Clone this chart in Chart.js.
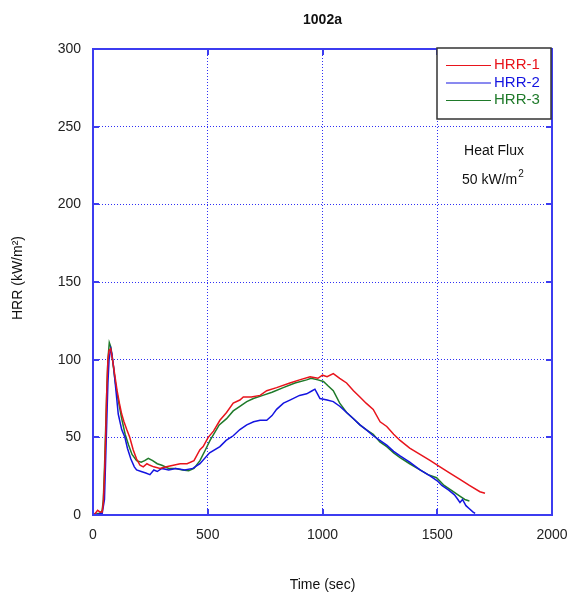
<!DOCTYPE html>
<html>
<head>
<meta charset="utf-8">
<script src="https://cdn.jsdelivr.net/npm/chart.js@4/dist/chart.umd.min.js"></script>
<style>
  html, body { margin: 0; padding: 0; background: #fff; }
  #wrap { width: 569px; height: 594px; }
</style>
</head>
<body>
<div id="wrap"><canvas id="hrr-chart" width="569" height="594"></canvas></div>
<script>
// Data
const title = '1002a';
const seriesNames = ['HRR-1', 'HRR-2', 'HRR-3'];
const seriesColors = ['#e8141c', '#1414e0', '#1f7a2a'];

const xTicks = [0, 500, 1000, 1500, 2000];
const yTicks = [0, 50, 100, 150, 200, 250, 300];

const t1 = [0, 10, 20, 30, 40, 45, 50, 55, 60, 65, 70, 77, 85, 95, 105, 115, 125, 135, 147, 160, 175, 190, 205, 219, 235, 248, 265, 292, 320, 350, 380, 410, 440, 466, 480, 502, 525, 553, 582, 611, 640, 655, 690, 728, 757, 800, 858, 900, 946, 980, 1000, 1020, 1047, 1075, 1105, 1135, 1163, 1190, 1221, 1251, 1280, 1310, 1338, 1380, 1425, 1470, 1512, 1555, 1599, 1640, 1686, 1708];
const hrr1 = [0, 1, 3, 2, 2, 8, 25, 50, 80, 100, 106, 107, 100, 90, 80, 72, 65, 60, 55, 50, 42, 36, 32, 31, 33, 32, 31, 30, 31, 32, 33, 33, 35, 42, 44, 50, 54, 61, 66, 72, 74, 76, 76, 77, 80, 82, 85, 87, 89, 88, 90, 89, 91, 88, 85, 80, 76, 72, 68, 60, 57, 52, 48, 43, 39, 35, 31, 27, 23, 19, 15, 14];

const t2 = [0, 10, 20, 30, 40, 50, 55, 60, 65, 70, 77, 82, 90, 100, 110, 125, 139, 150, 165, 180, 190, 210, 230, 248, 265, 280, 300, 330, 360, 400, 435, 466, 508, 553, 580, 611, 640, 670, 700, 728, 757, 780, 800, 830, 858, 900, 931, 955, 967, 978, 989, 1020, 1047, 1075, 1105, 1135, 1163, 1190, 1221, 1250, 1280, 1310, 1338, 1380, 1425, 1470, 1500, 1520, 1550, 1575, 1590, 1599, 1610, 1625, 1640, 1655, 1665];
const hrr2 = [0, 1, 0, 1, 1, 10, 35, 60, 85, 100, 107, 104, 95, 80, 65, 55, 50, 43, 36, 31, 29, 28, 27, 26, 29, 28, 30, 29, 30, 29, 30, 33, 40, 44, 48, 51, 55, 58, 60, 61, 61, 64, 68, 72, 74, 77, 78, 80, 81, 78, 75, 74, 73, 70, 66, 62, 58, 55, 51, 48, 45, 41, 38, 34, 29, 25, 22, 19, 16, 13, 10, 8, 10, 6, 4, 2, 1];

const t3 = [0, 10, 20, 30, 40, 45, 50, 55, 60, 65, 71, 78, 85, 95, 105, 115, 125, 140, 155, 170, 190, 210, 225, 241, 260, 280, 300, 330, 360, 390, 417, 440, 466, 490, 510, 550, 582, 611, 640, 670, 699, 740, 780, 829, 880, 931, 950, 980, 1004, 1025, 1047, 1075, 1105, 1135, 1163, 1190, 1221, 1250, 1280, 1310, 1338, 1380, 1425, 1460, 1497, 1530, 1570, 1600, 1620, 1640];
const hrr3 = [0, 0, 1, 1, 3, 10, 30, 55, 80, 100, 111, 108, 100, 88, 78, 70, 62, 52, 45, 39, 35, 34, 35, 36.5, 35, 33, 32, 30, 30, 29, 28.5, 30, 35, 42, 48, 58, 62, 67, 70, 73, 75, 77, 79, 82, 85, 87, 88, 87, 86, 83, 80, 72, 66, 62, 58, 55, 52, 47, 44, 40, 37, 33, 29, 26, 24, 19, 15, 12, 10, 9];

const FONT = '"Liberation Sans", Arial, sans-serif';
const FRAME = '#3c3cf0';
const GRID = '#2f2ff5';

function toPoints(xs, ys) {
  return xs.map((x, i) => ({ x: x, y: ys[i] }));
}

// Frame, inward ticks, legend and labels
const decorations = {
  id: 'decorations',
  afterDraw(chart) {
    const c = chart.ctx;
    const a = chart.chartArea;
    const xs = chart.scales.x, ys = chart.scales.y;
    c.save();

    // frame
    c.strokeStyle = FRAME;
    c.lineWidth = 2;
    c.strokeRect(a.left, a.top, a.right - a.left, a.bottom - a.top);

    // inward ticks
    c.lineWidth = 2;
    c.beginPath();
    xTicks.forEach(v => {
      const px = Math.round(xs.getPixelForValue(v));
      c.moveTo(px, a.bottom); c.lineTo(px, a.bottom - 6);
      c.moveTo(px, a.top); c.lineTo(px, a.top + 6);
    });
    yTicks.forEach(v => {
      const py = Math.round(ys.getPixelForValue(v));
      c.moveTo(a.left, py); c.lineTo(a.left + 6, py);
      c.moveTo(a.right, py); c.lineTo(a.right - 6, py);
    });
    c.stroke();

    // title
    c.fillStyle = '#111';
    c.textAlign = 'center';
    c.textBaseline = 'middle';
    c.font = 'bold 14px ' + FONT;
    c.fillText(title, (a.left + a.right) / 2, 20);

    // axis titles
    c.font = '14px ' + FONT;
    c.fillText('Time (sec)', (a.left + a.right) / 2, 585);
    c.save();
    c.translate(18, 278);
    c.rotate(-Math.PI / 2);
    c.fillText('HRR (kW/m\u00B2)', 0, 0);
    c.restore();

    // legend box
    const lx = 437, ly = 48, lw = 114, lh = 71;
    c.fillStyle = '#fff';
    c.fillRect(lx, ly, lw, lh);
    c.strokeStyle = '#333';
    c.lineWidth = 1.5;
    c.strokeRect(lx, ly, lw, lh);
    c.textAlign = 'left';
    c.font = '15px ' + FONT;
    seriesNames.forEach((name, i) => {
      const yy = 65 + i * 17.5;
      c.strokeStyle = seriesColors[i];
      c.lineWidth = 1;
      c.beginPath();
      c.moveTo(446, yy + 0.5); c.lineTo(491, yy + 0.5);
      c.stroke();
      c.fillStyle = seriesColors[i];
      c.fillText(name, 494, yy);
    });

    // heat flux note
    c.fillStyle = '#111';
    c.textAlign = 'center';
    c.font = '14px ' + FONT;
    c.fillText('Heat Flux', 494, 151);
    c.textAlign = 'left';
    const base = '50 kW/m';
    c.fillText(base, 462, 180);
    const w = c.measureText(base).width;
    c.font = '10px ' + FONT;
    c.fillText('2', 462 + w + 1, 174);

    c.restore();
  }
};

const ctx = document.getElementById('hrr-chart').getContext('2d');
const hrrChart = new Chart(ctx, {
  type: 'scatter',
  data: {
    datasets: [
      { label: seriesNames[0], data: toPoints(t1, hrr1), borderColor: seriesColors[0] },
      { label: seriesNames[1], data: toPoints(t2, hrr2), borderColor: seriesColors[1] },
      { label: seriesNames[2], data: toPoints(t3, hrr3), borderColor: seriesColors[2] }
    ].map(d => Object.assign(d, {
      showLine: true,
      pointRadius: 0,
      borderWidth: 1.5,
      tension: 0,
      fill: false
    }))
  },
  options: {
    responsive: false,
    animation: false,
    devicePixelRatio: 1,
    layout: { padding: { top: 49, right: 17, left: 0, bottom: 0 } },
    plugins: {
      legend: { display: false },
      title: { display: false },
      tooltip: { enabled: false }
    },
    scales: {
      x: {
        type: 'linear',
        min: 0,
        max: 2000,
        afterFit: s => { s.height = 79; s.paddingLeft = 0; s.paddingRight = 0; },
        afterBuildTicks: s => { s.ticks = xTicks.map(v => ({ value: v })); },
        ticks: {
          color: '#222', font: { family: FONT, size: 14 }, padding: 12, maxRotation: 0,
          callback: v => String(v)
        },
        grid: { color: GRID, lineWidth: 1, drawTicks: false },
        border: { display: false, dash: [1, 2] }
      },
      y: {
        type: 'linear',
        min: 0,
        max: 300,
        afterFit: s => { s.width = 93; s.paddingTop = 0; s.paddingBottom = 0; },
        afterBuildTicks: s => { s.ticks = yTicks.map(v => ({ value: v })); },
        ticks: {
          color: '#222', font: { family: FONT, size: 14 }, padding: 12,
          callback: v => String(v)
        },
        grid: { color: GRID, lineWidth: 1, drawTicks: false },
        border: { display: false, dash: [1, 2] }
      }
    }
  },
  plugins: [decorations]
});
</script>
</body>
</html>
